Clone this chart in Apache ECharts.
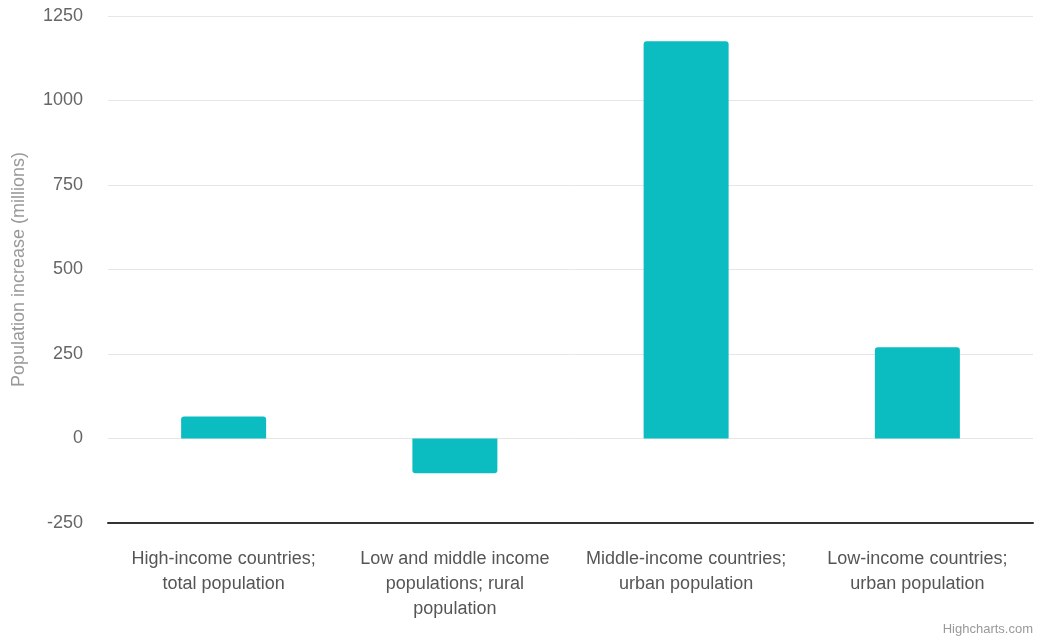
<!DOCTYPE html>
<html>
<head>
<meta charset="utf-8">
<script src="https://cdn.jsdelivr.net/npm/echarts@6/dist/echarts.min.js"></script>
<style>
  html, body { margin: 0; padding: 0; background: #fff; }
  #chart { width: 1037px; height: 640px; }
</style>
</head>
<body>
<div id="chart"></div>
<script>
'use strict';

var categories = [
  'High-income countries;\ntotal population',
  'Low and middle income\npopulations; rural\npopulation',
  'Middle-income countries;\nurban population',
  'Low-income countries;\nurban population'
];
var increase = [65, -103, 1175, 270];
var yTicks = [-250, 0, 250, 500, 750, 1000, 1250];

var chart = echarts.init(document.getElementById('chart'));

var option = {
  animation: false,
  textStyle: { fontFamily: 'Liberation Sans, Arial, sans-serif' },
  grid: { left: 108, right: 4, top: 16, bottom: 117, outerBoundsMode: 'none', containLabel: false },
  xAxis: {
    type: 'category',
    data: categories,
    axisLine: { onZero: false, lineStyle: { color: '#333', width: 2 } },
    axisTick: { show: false },
    axisLabel: {
      color: '#555',
      fontSize: 18,
      lineHeight: 25,
      margin: 24,
      interval: 0
    }
  },
  yAxis: {
    type: 'value',
    min: yTicks[0],
    max: yTicks[yTicks.length - 1],
    interval: 250,
    name: 'Population increase (millions)',
    nameLocation: 'middle',
    nameGap: 80,
    nameTextStyle: { color: '#999', fontSize: 18 },
    axisLine: { show: false },
    axisTick: { show: false },
    axisLabel: {
      color: '#666',
      fontSize: 18,
      margin: 25,
      formatter: function (v) { return String(v); }
    },
    splitLine: { lineStyle: { color: '#e6e6e6', width: 1 } }
  },
  series: [{
    type: 'bar',
    data: increase.map(function (v) {
      return {
        value: v,
        itemStyle: { borderRadius: v >= 0 ? [3, 3, 0, 0] : [0, 0, 3, 3] }
      };
    }),
    barWidth: 85,
    itemStyle: { color: '#0bbdc0' }
  }],
  graphic: [{
    type: 'text',
    right: 4,
    bottom: 4,
    style: { text: 'Highcharts.com', fill: '#999', fontSize: 13, fontFamily: 'Liberation Sans, Arial, sans-serif' }
  }]
};

chart.setOption(option);
</script>
</body>
</html>
